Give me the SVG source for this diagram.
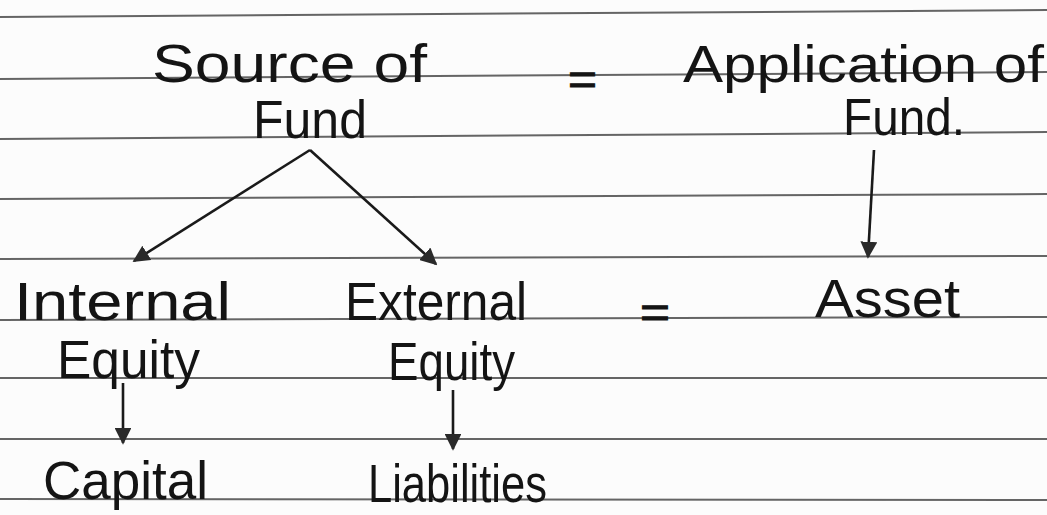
<svg xmlns="http://www.w3.org/2000/svg" width="1047" height="515" viewBox="0 0 1047 515">
<style>
.rule{stroke:#4a4a4a;stroke-width:2;fill:none;opacity:0.85}
.t{font-family:"Liberation Sans","Noto Sans",sans-serif;font-size:54px;fill:#141414}
.s{font-size:52px}
.eq{font-family:"Liberation Sans","Noto Sans",sans-serif;font-size:44px;fill:#141414;stroke:#141414;stroke-width:1}
.c{stroke:#1a1a1a;stroke-width:2.6;fill:none;marker-end:url(#ah)}
</style>
<defs>
<marker id="ah" viewBox="0 0 10 10" refX="9" refY="5" markerWidth="6.5" markerHeight="6.5" orient="auto" markerUnits="strokeWidth">
<path d="M0,0 L10,5 L0,10 Z" fill="#2a2a2a"/>
</marker>
</defs>
<rect x="0" y="0" width="1047" height="515" fill="#fcfcfc"/>
<g id="ruled-lines">
<line class="rule" x1="0" y1="17" x2="1047" y2="10"/>
<line class="rule" x1="0" y1="79" x2="1047" y2="72"/>
<line class="rule" x1="0" y1="139" x2="1047" y2="132"/>
<line class="rule" x1="0" y1="199" x2="1047" y2="194"/>
<line class="rule" x1="0" y1="259" x2="1047" y2="256"/>
<line class="rule" x1="0" y1="320" x2="1047" y2="317"/>
<line class="rule" x1="0" y1="378" x2="1047" y2="378"/>
<line class="rule" x1="0" y1="439" x2="1047" y2="439"/>
<line class="rule" x1="0" y1="499" x2="1047" y2="500"/>
</g>
<g id="source-of-fund">
<text class="t" x="152" y="82" textLength="275" lengthAdjust="spacingAndGlyphs">Source of</text>
<text class="t" x="253" y="138" textLength="114" lengthAdjust="spacingAndGlyphs">Fund</text>
</g>
<g id="eq-top"><text class="eq" x="568" y="95" textLength="29" lengthAdjust="spacingAndGlyphs">=</text></g>
<g id="application-of-fund">
<text class="t s" x="683" y="82" textLength="361" lengthAdjust="spacingAndGlyphs">Application of</text>
<text class="t s" x="843" y="135" textLength="122" lengthAdjust="spacingAndGlyphs">Fund.</text>
</g>
<g id="internal-equity">
<text class="t" x="14" y="320" textLength="217" lengthAdjust="spacingAndGlyphs">Internal</text>
<text class="t" x="57" y="378" textLength="143" lengthAdjust="spacingAndGlyphs">Equity</text>
</g>
<g id="external-equity">
<text class="t" x="345" y="320" textLength="182" lengthAdjust="spacingAndGlyphs">External</text>
<text class="t" x="388" y="380" textLength="127" lengthAdjust="spacingAndGlyphs">Equity</text>
</g>
<g id="eq-mid"><text class="eq" x="640" y="328" textLength="30" lengthAdjust="spacingAndGlyphs">=</text></g>
<g id="asset"><text class="t" x="815" y="317" textLength="145" lengthAdjust="spacingAndGlyphs">Asset</text></g>
<g id="capital"><text class="t" x="43" y="499" textLength="165" lengthAdjust="spacingAndGlyphs">Capital</text></g>
<g id="liabilities"><text class="t" x="368" y="502" textLength="179" lengthAdjust="spacingAndGlyphs">Liabilities</text></g>
<g id="connectors">
<path class="c" d="M310,150 L134,261"/>
<path class="c" d="M310,150 L436,264"/>
<path class="c" d="M874,150 L868,257"/>
<path class="c" d="M123,383 L123,443"/>
<path class="c" d="M453,390 L453,449"/>
</g>
</svg>
